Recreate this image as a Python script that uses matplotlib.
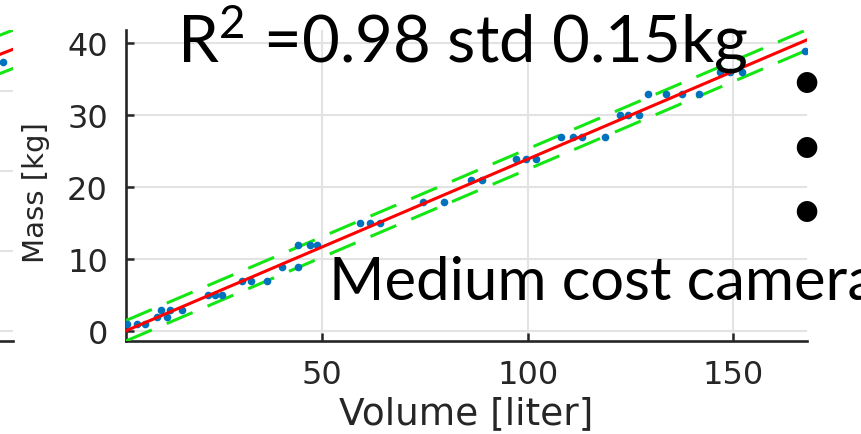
import numpy as np
import matplotlib
matplotlib.use("Agg")
import matplotlib.pyplot as plt

# volume [liter] vs mass [kg]
volume = [2.6, 4.9, 6.9, 9.8, 12.2, 10.7, 13.0, 15.8, 22.3, 24.0, 25.6,
          30.4, 32.6, 36.5, 40.2, 44.2, 44.2, 47.0, 48.7, 59.2, 61.6, 64.0,
          74.6, 79.6, 86.3, 88.8, 97.1, 99.7, 102.1, 108.2, 111.0, 113.1,
          118.7, 122.4, 124.4, 127.1, 129.2, 133.7, 137.6, 141.7, 146.7,
          149.1, 152.0, 167.4]
mass = [1, 1, 1, 2, 2, 3, 3, 3, 5, 5, 5,
        7, 7, 7, 9, 9, 12, 12, 12, 15, 15, 15,
        18, 18, 21, 21, 24, 24, 24, 27, 27, 27,
        27, 30, 30, 30, 33, 33, 33, 33, 36,
        36, 36, 39]

# fitted line and band as seen in the plot
fit_range = [2.3, 168.0]
fit_slope = 0.244
fit_intercept = -0.48
band = 1.42

# the neighbouring plot on the left, only its right edge shows
left_volume = [98.5]
left_mass = [33.6]
left_range = [80.0, 100.0]
left_slope = 0.33
left_intercept = 35.25 - 0.33 * 100
left_band = 2.4

x_ticks = [50, 100, 150]
y_ticks = [0, 10, 20, 30, 40]

blue = "#0072BD"
green = "#14e614"
dark = "#262626"
grid_c = "#e3e3e3"

plt.rcParams["font.family"] = "DejaVu Sans"
plt.rcParams["mathtext.fontset"] = "custom"
plt.rcParams["mathtext.rm"] = "Lato"
plt.rcParams["mathtext.it"] = "Lato:italic"

fig = plt.figure(figsize=(8.61, 4.35), dpi=100)
W, H = 861.0, 435.0
ax = fig.add_axes([126 / W, 1 - 341.7 / H, 681.3 / W, 311 / H])

fx = np.array(fit_range)
fy = fit_slope * fx + fit_intercept
dash = (0, (9.2, 5.3))
ax.plot(fx, fy + band, color=green, lw=2.2, linestyle=dash, zorder=3)
ax.plot(fx, fy - band, color=green, lw=2.2, linestyle=dash, zorder=3)
ax.plot(volume, mass, "o", color=blue, ms=5.5, mec="none", zorder=4)
ax.plot(fx, fy, color="red", lw=2.2, zorder=5)

ax.set_xlim(2.3, 168)
ax.set_ylim(-1.3, 41.9)
ax.set_xticks(x_ticks)
ax.set_yticks(y_ticks)
ax.grid(True, color=grid_c, lw=1.5)
ax.set_axisbelow(True)
for s in ["top", "right"]:
    ax.spines[s].set_visible(False)
for s in ["left", "bottom"]:
    ax.spines[s].set_color(dark)
    ax.spines[s].set_linewidth(1.9)
ax.tick_params(direction="in", length=6, width=1.8, colors=dark,
               labelsize=23, labelcolor=dark)
ax.tick_params(axis="x", pad=13)
ax.tick_params(axis="y", pad=13)
ax.set_xlabel("Volume [liter]", fontsize=27, color=dark, labelpad=4)
ax.set_ylabel("Mass [kg]", fontsize=21, color=dark)
ax.yaxis.set_label_coords(-0.1115, 0.48)

# left neighbour axes, mostly outside the figure
axl = fig.add_axes([(13 - 681.3) / W, 1 - 341.7 / H, 681.3 / W, 311 / H])
lx = np.array(left_range)
ly = left_slope * lx + left_intercept
axl.plot(lx, ly + left_band, color=green, lw=2.2)
axl.plot(lx, ly - left_band, color=green, lw=2.2)
axl.plot(lx, ly, color="red", lw=2.2)
axl.plot(left_volume, left_mass, "o", color=blue, ms=5.5, mec="none")
axl.set_xlim(0, 100)
axl.set_ylim(-1.2, 37.7)
axl.set_yticks([0, 10, 20, 30])
axl.set_xticks([])
axl.grid(True, axis="y", color=grid_c, lw=1.5)
axl.set_axisbelow(True)
for s in ["top", "right", "left"]:
    axl.spines[s].set_visible(False)
axl.spines["bottom"].set_color(dark)
axl.spines["bottom"].set_linewidth(1.9)
axl.tick_params(left=False, labelleft=False)

# slide text on top of the plot (the reference slide cuts "camera" at the edge)
fig.text(177 / W, 1 - 62 / H, r"R$^{\mathrm{2}}$ =0.98 std 0.15kg",
         fontsize=47, family="Lato", va="baseline", ha="left")
fig.text(328.6 / W, 1 - 300 / H, "Medium cost camera", fontsize=43,
         family="Lato", va="baseline", ha="left")
for by in [84, 148.3, 212.3]:
    fig.text(806.7 / W, 1 - by / H, "\u2022", fontsize=40, family="Lato",
             va="center", ha="center")

fig.savefig("out.png", dpi=100)
